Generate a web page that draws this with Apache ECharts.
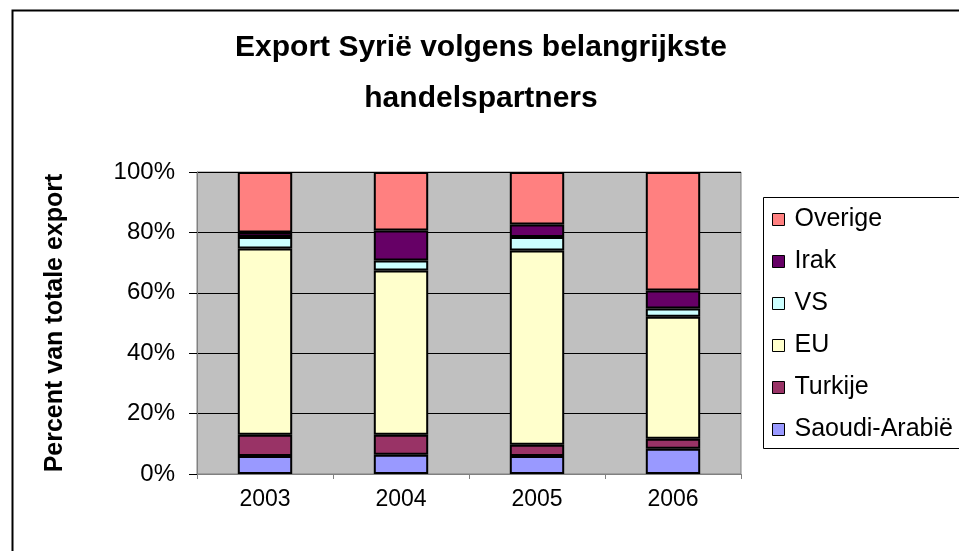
<!DOCTYPE html>
<html>
<head>
<meta charset="utf-8">
<script src="https://cdn.jsdelivr.net/npm/echarts@6/dist/echarts.min.js"></script>
<style>
html,body{margin:0;padding:0;background:#fff;}
#c{width:959px;height:551px;}
</style>
</head>
<body>
<div id="c"></div>
<script>
var categories = ['2003', '2004', '2005', '2006'];
var saoudi  = [6.0, 6.4, 6.0, 8.4];
var turkije = [7.0, 6.6, 3.7, 3.3];
var eu      = [61.7, 54.4, 64.3, 40.4];
var vs      = [3.8, 3.3, 4.5, 2.7];
var irak    = [1.5, 9.9, 4.1, 6.0];
var overige = [20.0, 19.4, 17.4, 39.2];
var seriesNames = ['Saoudi-Arabië', 'Turkije', 'EU', 'VS', 'Irak', 'Overige'];
var legendOrder = ['Overige', 'Irak', 'VS', 'EU', 'Turkije', 'Saoudi-Arabië'];
var titleText = 'Export Syrië volgens belangrijkste\nhandelspartners';
var yName = 'Percent van totale export';

var colors = ['#9999FF', '#993366', '#FFFFCC', '#CCFFFF', '#660066', '#FF8080'];
var values = [saoudi, turkije, eu, vs, irak, overige];
var FONT = '"Liberation Sans", Arial, sans-serif';

var chart = echarts.init(document.getElementById('c'), null, {renderer: 'canvas'});
var series = seriesNames.map(function (n, i) {
  return {
    name: n, type: 'bar', stack: 'total', barWidth: '40%',
    data: values[i],
    itemStyle: {color: colors[i], borderColor: '#000', borderWidth: 2},
    emphasis: {disabled: true}
  };
});

chart.setOption({
  animation: false,
  backgroundColor: '#fff',
  textStyle: {fontFamily: FONT},
  title: {
    text: titleText, left: 481, top: 22, textAlign: 'center', padding: 0,
    textStyle: {fontFamily: FONT, fontSize: 30, fontWeight: 'bold', color: '#000', lineHeight: 51}
  },
  grid: {
    left: 197, top: 172, right: 218, bottom: 77, show: true,
    backgroundColor: '#C0C0C0', borderColor: '#808080', borderWidth: 1
  },
  legend: {
    data: legendOrder, orient: 'vertical', left: 772, top: 207, padding: 0,
    itemWidth: 12, itemHeight: 12, itemGap: 17,
    icon: 'rect',
    itemStyle: {borderColor: '#000', borderWidth: 1},
    textStyle: {fontFamily: FONT, fontSize: 25, color: '#000', lineHeight: 23, padding: [0, 0, 0, 5]},
    selectedMode: false
  },
  xAxis: {
    type: 'category', data: categories,
    axisLine: {lineStyle: {color: '#808080', width: 1}},
    axisTick: {show: true, length: 5, lineStyle: {color: '#808080'}},
    axisLabel: {fontFamily: FONT, fontSize: 23, color: '#000', margin: 14},
    splitLine: {show: false}
  },
  yAxis: {
    type: 'value', min: 0, max: 100, interval: 20,
    name: yName, nameLocation: 'middle', nameRotate: 90, nameGap: 129,
    nameTextStyle: {fontFamily: FONT, fontSize: 25, fontWeight: 'bold', color: '#000'},
    axisLine: {show: true, lineStyle: {color: '#808080', width: 1}},
    axisTick: {show: true, length: 8, lineStyle: {color: '#000'}},
    axisLabel: {fontFamily: FONT, fontSize: 24, color: '#000', margin: 22, formatter: '{value}%'},
    splitLine: {show: true, lineStyle: {color: '#000', width: 1}}
  },
  graphic: [
    {type: 'rect', left: 10, top: 8, shape: {x: 0, y: 0, width: 1000, height: 1000},
     style: {fill: 'none', stroke: '#000', lineWidth: 2}, z: 0, silent: true},
    {type: 'rect', left: 763, top: 197, shape: {x: 0, y: 0, width: 300, height: 251},
     style: {fill: '#fff', stroke: '#000', lineWidth: 1}, z: -1, silent: true}
  ],
  series: series
});
</script>
</body>
</html>
